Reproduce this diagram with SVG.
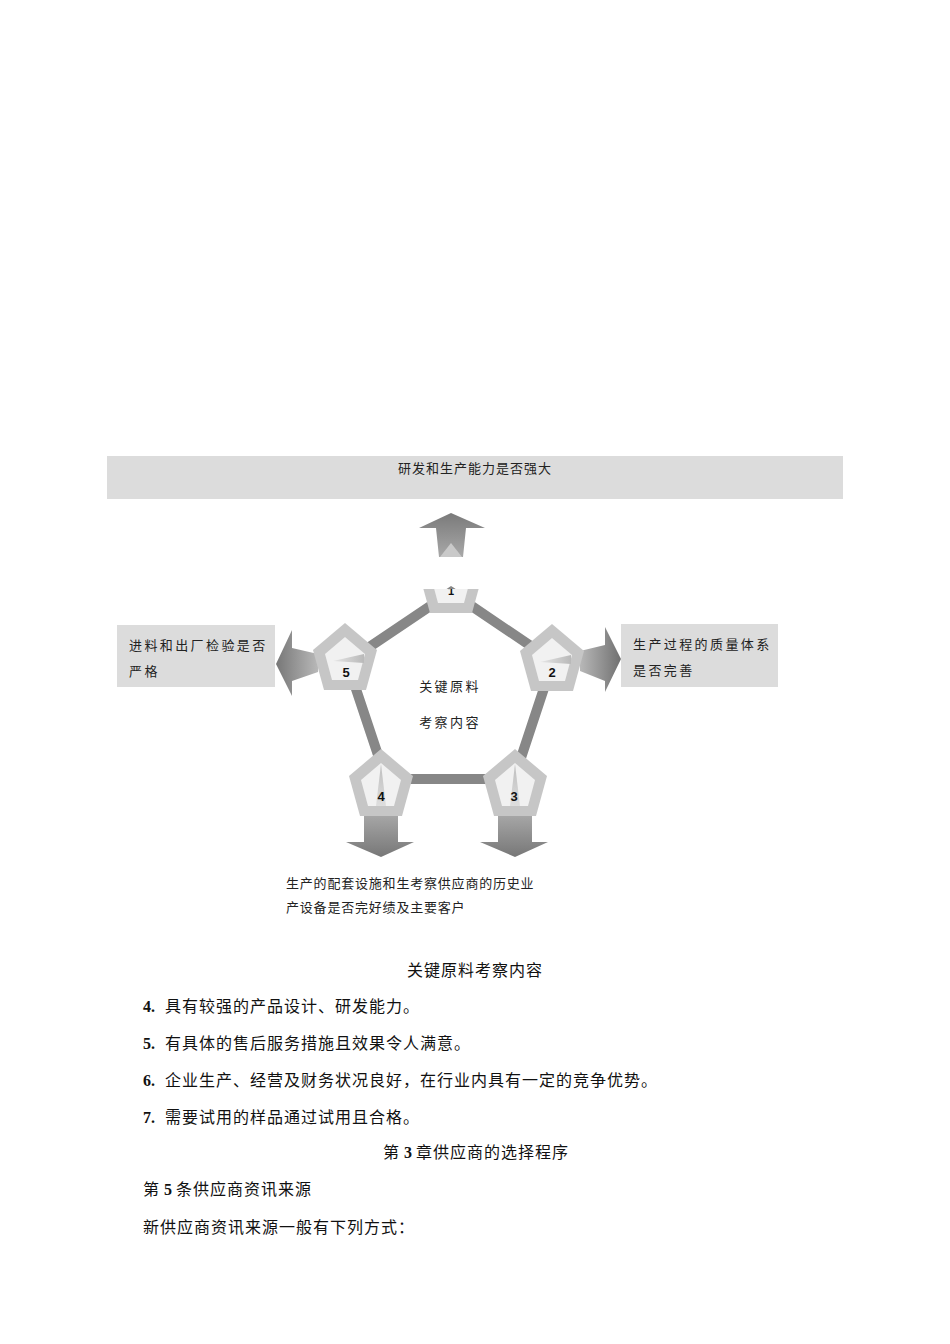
<svg xmlns="http://www.w3.org/2000/svg" xmlns:xlink="http://www.w3.org/1999/xlink" width="950" height="1344" viewBox="0 0 950 1344">
<style>
.box{fill:#dcdcdc}
.cjk{font-family:"Noto Sans CJK SC","Liberation Sans",sans-serif;fill:#222}
.dtx{font-size:13px;letter-spacing:1px}
.btx{font-size:13px;letter-spacing:2.4px}
.body{font-family:"Noto Sans CJK SC","Liberation Serif",sans-serif;font-size:16px;letter-spacing:1px;fill:#111}
.num{font-family:"Liberation Serif",serif;font-weight:bold;letter-spacing:0}
.ring{stroke:#878787;stroke-width:10;fill:none;stroke-linejoin:miter}
.outer{fill:#c6c6c6}
.inner{fill:#f1f1f1}
.lbl{font-family:"Liberation Sans","DejaVu Sans",sans-serif;font-weight:bold;font-size:13px;fill:#111;text-anchor:middle}
</style>
<defs>
<path id="po" d="M0,-37 L32,-10 L21,30 L-21,30 L-32,-10 Z"/>
<path id="pi" d="M0,-23 L20,-6 L13,20 L-13,20 L-20,-6 Z"/>
<linearGradient id="gUp" x1="0" y1="0" x2="0" y2="1"><stop offset="0" stop-color="#7a7a7a"/><stop offset="1" stop-color="#a8a8a8"/></linearGradient>
<linearGradient id="gDown" x1="0" y1="0" x2="0" y2="1"><stop offset="0" stop-color="#b2b2b2"/><stop offset="1" stop-color="#777"/></linearGradient>
<linearGradient id="gLeft" x1="0" y1="0" x2="1" y2="0"><stop offset="0" stop-color="#777"/><stop offset="1" stop-color="#b8b8b8"/></linearGradient>
<linearGradient id="gRight" x1="0" y1="0" x2="1" y2="0"><stop offset="0" stop-color="#b8b8b8"/><stop offset="1" stop-color="#707070"/></linearGradient>
<linearGradient id="gSl" x1="0" y1="0" x2="1" y2="0"><stop offset="0" stop-color="#e6e6e6"/><stop offset="1" stop-color="#b9b9b9"/></linearGradient>
<linearGradient id="gSv" x1="0" y1="0" x2="0" y2="1"><stop offset="0" stop-color="#bdbdbd"/><stop offset="1" stop-color="#dedede"/></linearGradient>
<clipPath id="cut1"><rect x="400" y="589" width="110" height="60"/></clipPath>
</defs>

<!-- text boxes -->
<g id="box-top">
<rect class="box" x="107" y="456" width="736" height="43"/>
<text class="cjk dtx" x="475" y="473" text-anchor="middle">研发和生产能力是否强大</text>
</g>
<g id="box-left">
<rect class="box" x="117" y="625" width="158" height="62"/>
<text class="cjk btx" x="129" y="650">进料和出厂检验是否</text>
<text class="cjk btx" x="129" y="676">严格</text>
</g>
<g id="box-right">
<rect class="box" x="621" y="624" width="157" height="63"/>
<text class="cjk btx" x="633" y="649">生产过程的质量体系</text>
<text class="cjk btx" x="633" y="675">是否完善</text>
</g>

<!-- connectors -->
<g id="connectors">
<polygon class="ring" points="451,592 553,661 514,779 386,779 347,662"/>
<polygon fill="url(#gUp)" points="439,557 436,528 419,528 451,513 485,528 466,528 463,557"/>
<polygon fill="#c9c9c9" points="440,557 451,543 462,557"/>
<polygon fill="url(#gLeft)" points="318,654 292,648 292,630 276,664 292,696 292,681 318,672"/>
<polygon fill="url(#gRight)" points="580,651 605,645 605,627 621,659 605,692 605,681 580,671"/>
<polygon fill="url(#gDown)" points="364,805 364,842 346,842 381,857 414,842 398,842 398,805"/>
<polygon fill="url(#gDown)" points="498,805 498,842 480,842 515,857 548,842 532,842 532,805"/>
</g>

<!-- nodes -->
<g id="node-1" clip-path="url(#cut1)">
<use href="#po" xlink:href="#po" class="outer" transform="translate(451,583)"/>
<use href="#pi" xlink:href="#pi" class="inner" transform="translate(451,583)"/>
<text class="lbl" x="451" y="595" style="font-size:11px">1</text>
</g>
<g id="node-2">
<use href="#po" xlink:href="#po" class="outer" transform="translate(552,661)"/>
<use href="#pi" xlink:href="#pi" class="inner" transform="translate(552,661)"/>
<polygon fill="url(#gSl)" points="540,662 571,655 571,664"/>
<text class="lbl" x="552" y="677">2</text>
</g>
<g id="node-3">
<use href="#po" xlink:href="#po" class="outer" transform="translate(515,786)"/>
<use href="#pi" xlink:href="#pi" class="inner" transform="translate(515,786)"/>
<polygon fill="url(#gSv)" points="510,806 515,764 520,806"/>
<text class="lbl" x="514" y="801">3</text>
</g>
<g id="node-4">
<use href="#po" xlink:href="#po" class="outer" transform="translate(381,786)"/>
<use href="#pi" xlink:href="#pi" class="inner" transform="translate(381,786)"/>
<polygon fill="url(#gSv)" points="376,806 381,764 386,806"/>
<text class="lbl" x="381" y="801">4</text>
</g>
<g id="node-5">
<use href="#po" xlink:href="#po" class="outer" transform="translate(345,660)"/>
<use href="#pi" xlink:href="#pi" class="inner" transform="translate(345,660)"/>
<polygon fill="url(#gSl)" points="333,661 364,654 364,663"/>
<text class="lbl" x="346" y="677">5</text>
</g>

<g id="center-label">
<text class="cjk btx" x="450" y="691" text-anchor="middle">关键原料</text>
<text class="cjk btx" x="450" y="727" text-anchor="middle">考察内容</text>
</g>

<g id="bottom-label">
<text class="cjk dtx" x="286" y="888" style="letter-spacing:0.8px">生产的配套设施和生考察供应商的历史业</text>
<text class="cjk dtx" x="286" y="912" style="letter-spacing:0.8px">产设备是否完好绩及主要客户</text>
</g>

<!-- body text -->
<g id="body">
<text class="body" x="475" y="976" text-anchor="middle">关键原料考察内容</text>
<text class="body" y="1012"><tspan class="num" x="143">4.</tspan><tspan x="165">具有较强的产品设计、研发能力。</tspan></text>
<text class="body" y="1049"><tspan class="num" x="143">5.</tspan><tspan x="165">有具体的售后服务措施且效果令人满意。</tspan></text>
<text class="body" y="1086"><tspan class="num" x="143">6.</tspan><tspan x="165">企业生产、经营及财务状况良好，在行业内具有一定的竞争优势。</tspan></text>
<text class="body" y="1123"><tspan class="num" x="143">7.</tspan><tspan x="165">需要试用的样品通过试用且合格。</tspan></text>
<text class="body" x="476" y="1158" text-anchor="middle">第<tspan class="num"> 3 </tspan>章供应商的选择程序</text>
<text class="body" x="143" y="1195">第<tspan class="num"> 5 </tspan>条供应商资讯来源</text>
<text class="body" x="143" y="1233">新供应商资讯来源一般有下列方式：</text>
</g>
</svg>
